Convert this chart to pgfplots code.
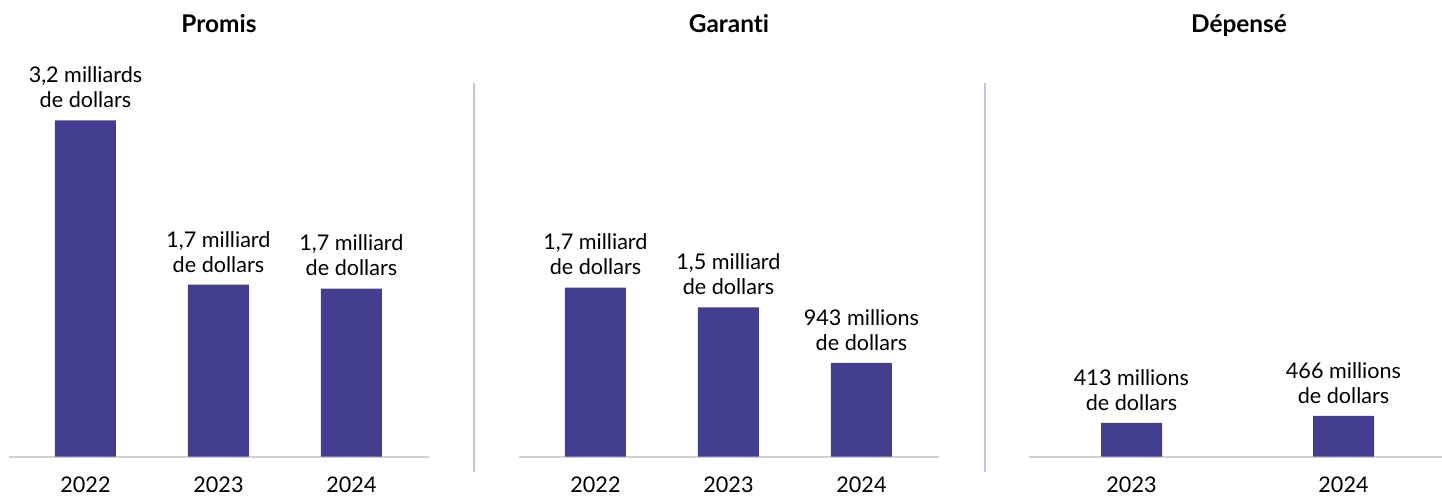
\documentclass[border=0pt]{standalone}
\usepackage{pgfplots}
\pgfplotsset{compat=1.18}
\usepackage{fontspec}
\setmainfont{Lato}[Ligatures=NoCommon]
\definecolor{barc}{RGB}{67,62,143}
\definecolor{sepc}{RGB}{196,196,226}
\definecolor{basec}{RGB}{210,210,210}
\newcommand{\lf}{\fontsize{10.8}{12.5}\selectfont}
\pgfplotsset{panel/.style={
  scale only axis, clip=false,
  anchor=south west,
  y=49.75pt, ymin=0, ymax=4,
  axis x line=bottom, axis y line=none,
  x axis line style={-, draw=basec, line width=1pt},
  major tick length=0pt,
  xticklabel style={font=\lf, inner sep=0pt, yshift=-10pt},
  ybar, bar width=30.5pt,
  point meta=explicit symbolic,
  nodes near coords,
  nodes near coords style={font=\lf, align=center, inner sep=0pt, anchor=south, yshift=6pt},
  title style={at={(0.5,1)}, anchor=base, inner sep=0pt, font=\bfseries\fontsize{12.2}{14}\selectfont, yshift=7.35pt},
}}
\begin{document}
\begin{tikzpicture}
\useasboundingbox (0,0) rectangle (721pt,-247.5pt);
\begin{axis}[panel, at={(4.5pt,-228.35pt)}, x=66.5pt, xmin=-0.575, xmax=2.583,
  xtick={0,1,2}, xticklabels={2022,2023,2024}, title={Promis}]
\addplot[fill=barc, draw=none] coordinates {
  (0,3.38) [{3,2 milliards\\de dollars}]
  (1,1.73) [{1,7 milliard\\de dollars}]
  (2,1.69) [{1,7 milliard\\de dollars}]
};
\end{axis}
\begin{axis}[panel, at={(259.5pt,-228.35pt)}, x=66.5pt, xmin=-0.575, xmax=2.583,
  xtick={0,1,2}, xticklabels={2022,2023,2024}, title={Garanti}]
\addplot[fill=barc, draw=none] coordinates {
  (0,1.70) [{1,7 milliard\\de dollars}]
  (1,1.50) [{1,5 milliard\\de dollars}]
  (2,0.943) [{943 millions\\de dollars}]
};
\end{axis}
\begin{axis}[panel, at={(514.5pt,-228.35pt)}, x=106pt, xmin=-0.4835, xmax=1.498,
  xtick={0,1}, xticklabels={2023,2024}, title={Dépensé}]
\addplot[fill=barc, draw=none] coordinates {
  (0,0.34) [{413 millions\\de dollars}]
  (1,0.41) [{466 millions\\de dollars}]
};
\end{axis}
\draw[sepc, line width=1pt] (237pt,-41.5pt) -- (237pt,-236pt);
\draw[sepc, line width=1pt] (492.5pt,-41.5pt) -- (492.5pt,-236pt);
\end{tikzpicture}
\end{document}
